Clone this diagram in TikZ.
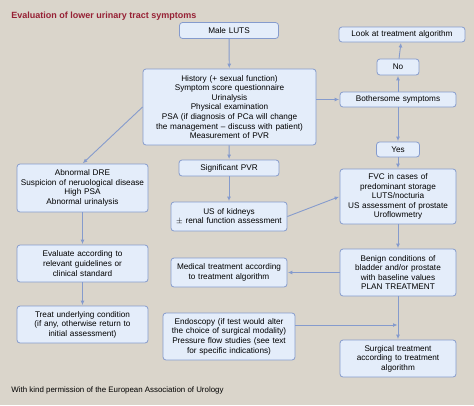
\documentclass[tikz,border=0pt]{standalone}
\usepackage{fontspec}
\setmainfont{Liberation Sans}
\usepackage{tikz}
\usetikzlibrary{arrows.meta}

\definecolor{bgbeige}{RGB}{218,213,203}
\definecolor{boxfill}{RGB}{228,237,250}
\definecolor{boxline}{RGB}{133,155,205}
\definecolor{titlered}{RGB}{150,32,52}

\begin{document}
\begin{tikzpicture}[x=1pt,y=-1pt,->,>={Latex[length=4.5pt,width=4pt]},shorten >=0.5pt,
  line width=0.9pt,draw=boxline,
  flow box/.style={rectangle,rounded corners=3pt,draw=boxline,fill=boxfill,
    line width=0.8pt,align=center,inner sep=1pt,
    font=\fontsize{8.2}{9.6}\selectfont},
  box/.style 2 args={flow box,minimum width=#1,minimum height=#2,text width=#1-4pt}]

  \useasboundingbox[fill=bgbeige] (0,0) rectangle (474,405);

  \node[anchor=base west,inner sep=0pt,text=titlered,font=\fontsize{9}{10}\selectfont\bfseries]
    (title) at (11,18) {Evaluation of lower urinary tract symptoms};

  % centre column
  \node[box={99pt}{16pt}] (male) at (229,30.5) {Male LUTS};
  \node[box={173pt}{76pt}] (history) at (229.5,107) {History (+ sexual function)\\
    Symptom score questionnaire\\ Urinalysis\\ Physical examination\\
    PSA (if diagnosis of PCa will change\\ the management -- discuss with patient)\\
    Measurement of PVR};
  \node[box={100pt}{16pt}] (pvr) at (229,168) {Significant PVR};
  \node[box={116pt}{29pt}] (kidney) at (229,216.5) {US of kidneys\\ $\pm$ renal function assessment};
  \node[box={116pt}{29pt}] (medical) at (229,272.5) {Medical treatment according\\ to treatment algorithm};
  \node[box={132pt}{47pt}] (endo) at (229,336.5) {Endoscopy (if test would alter\\
    the choice of surgical modality)\\ Pressure flow studies (see text\\ for specific indications)};

  % right column
  \node[box={126pt}{15pt}] (look) at (402,34.5) {Look at treatment algorithm};
  \node[box={42pt}{16pt}] (no) at (398,67) {No};
  \node[box={116pt}{15pt}] (bother) at (398,99.5) {Bothersome symptoms};
  \node[box={43pt}{15pt}] (yes) at (398,149.5) {Yes};
  \node[box={116pt}{55pt}] (fvc) at (398,196.5) {FVC in cases of\\ predominant storage\\
    LUTS/nocturia\\ US assessment of prostate\\ Uroflowmetry};
  \node[box={116pt}{47pt}] (benign) at (398,272.5) {Benign conditions of\\
    bladder and/or prostate\\ with baseline values\\ PLAN TREATMENT};
  \node[box={116pt}{37pt}] (surg) at (398,358.5) {Surgical treatment\\ according to treatment\\ algorithm};

  % left column
  \node[box={131pt}{48pt}] (dre) at (82.5,188) {Abnormal DRE\\ Suspicion of neruological disease\\
    High PSA\\ Abnormal urinalysis};
  \node[box={131pt}{37pt}] (evaluate) at (82.5,263.5) {Evaluate according to\\
    relevant guidelines or\\ clinical standard};
  \node[box={131pt}{37pt}] (treat) at (82.5,324.5) {Treat underlying condition\\
    (if any, otherwise return to\\ initial assessment)};

  \node[anchor=base west,inner sep=0pt,font=\fontsize{7.9}{9}\selectfont]
    (credit) at (11,392) {With kind permission of the European Association of Urology};

  \coordinate (endo out) at ([yshift=11.5pt]endo.east);
  \coordinate (tap) at (benign.south |- endo out);

  \path
    (male) edge (history)
    (history.west) edge (dre.north)
    (history.east |- bother.west) edge (bother.west)
    (bother) edge (no)
    (no) edge (look)
    (bother) edge (yes)
    (yes) edge (fvc)
    (history) edge (pvr)
    (pvr) edge (kidney)
    (kidney.east) edge (fvc.west)
    (fvc) edge (benign)
    (benign) edge (medical)
    (benign) edge (surg)
    (endo out) edge (tap)
    (dre) edge (evaluate)
    (evaluate) edge (treat);
\end{tikzpicture}
\end{document}
